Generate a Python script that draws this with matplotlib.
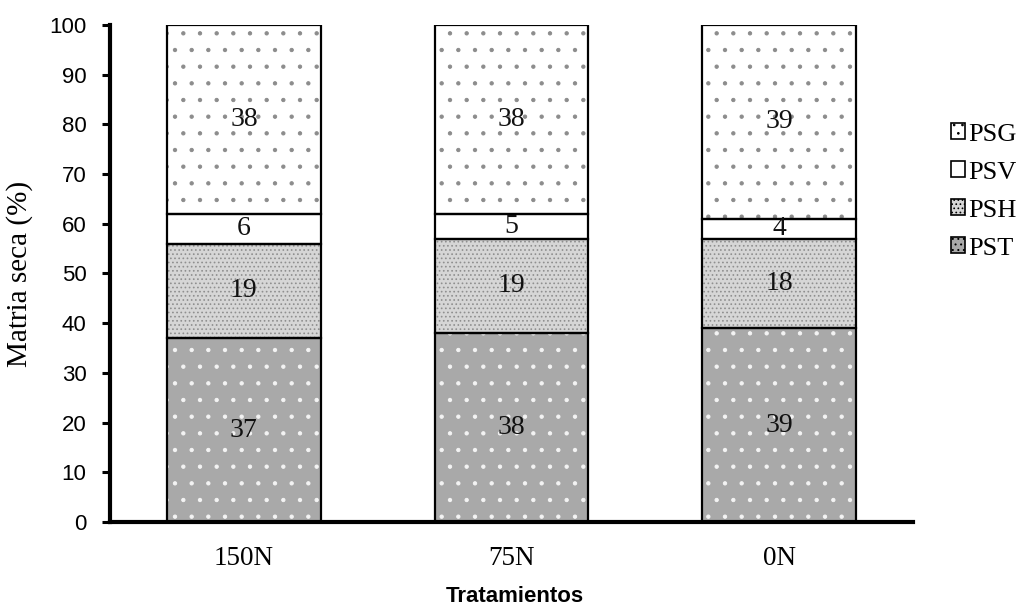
import matplotlib
matplotlib.use("Agg")
import matplotlib.pyplot as plt
from matplotlib.patches import Patch
import numpy as np

# Dry-matter partition by treatment (%)
treatments = ["150N", "75N", "0N"]
pst = [37, 38, 39]
psh = [19, 19, 18]
psv = [6, 5, 4]
psg = [38, 38, 39]
series_names = ["PST", "PSH", "PSV", "PSG"]
yticks = [0, 10, 20, 30, 40, 50, 60, 70, 80, 90, 100]

serif = "Liberation Serif"
sans = "Liberation Sans"
plt.rcParams["hatch.linewidth"] = 0.7

# fill colour, hatch pattern, hatch colour per component
styles = {
    "PST": ("#a9a9a9", ".", "#f4f4f4"),
    "PSH": ("#d6d6d6", "....", "#8f8f8f"),
    "PSV": ("#ffffff", "", "#ffffff"),
    "PSG": ("#ffffff", ".", "#8c8c8c"),
}
# denser hatch so the small legend keys still show their pattern
legend_hatch = {"PST": "...", "PSH": "....", "PSV": "", "PSG": ".."}

fig = plt.figure(figsize=(10.19, 6.07), dpi=100)
ax = fig.add_axes([0.108, 0.140, 0.788, 0.819])

x = np.arange(len(treatments))
width = 0.575
bottom = np.zeros(len(treatments))
values = {"PST": pst, "PSH": psh, "PSV": psv, "PSG": psg}
for name in series_names:
    vals = np.array(values[name], dtype=float)
    face, hatch, hcol = styles[name]
    ax.bar(x, vals, width, bottom=bottom, facecolor=face, hatch=hatch,
           edgecolor=hcol, linewidth=0, zorder=2)
    ax.bar(x, vals, width, bottom=bottom, facecolor="none",
           edgecolor="black", linewidth=1.6, zorder=3)
    for xi, b, v in zip(x, bottom, vals):
        ax.text(xi, b + v / 2, f"{v:g}", ha="center", va="center",
                fontsize=20, family=serif, color="#111111", zorder=4)
    bottom += vals

ax.set_xlim(-0.5, 2.5)
ax.set_ylim(0, 100)
ax.set_yticks(yticks)
ax.set_yticklabels([str(t) for t in yticks], fontsize=16, family=sans)
ax.set_xticks(x)
ax.set_xticklabels(treatments, fontsize=19.5, family=serif)
ax.tick_params(axis="y", direction="out", length=6, width=2.2, pad=11)
ax.tick_params(axis="x", length=0, pad=17)
for s in ("top", "right"):
    ax.spines[s].set_visible(False)
for s in ("left", "bottom"):
    ax.spines[s].set_linewidth(3)

ax.set_ylabel("Matria seca (%)", fontsize=21, family=serif, labelpad=12)
fig.text(515 / 1019, 1 - 597 / 607, "Tratamientos", ha="center", va="center",
         fontsize=16, family=sans, fontweight="bold")

handles = []
for name in reversed(series_names):
    face, _, _ = styles[name]
    handles.append(Patch(facecolor=face, hatch=legend_hatch[name],
                         edgecolor="black", linewidth=1.2, label=name))
leg = fig.legend(handles=handles, loc="center left",
                 bbox_to_anchor=(951 / 1019, 1 - 191.5 / 607),
                 bbox_transform=fig.transFigure,
                 frameon=False, prop={"family": serif, "size": 19},
                 handlelength=0.53, handleheight=0.53, handletextpad=0.12,
                 labelspacing=0.6, borderpad=0, borderaxespad=0)

fig.savefig("out.png", dpi=100)
